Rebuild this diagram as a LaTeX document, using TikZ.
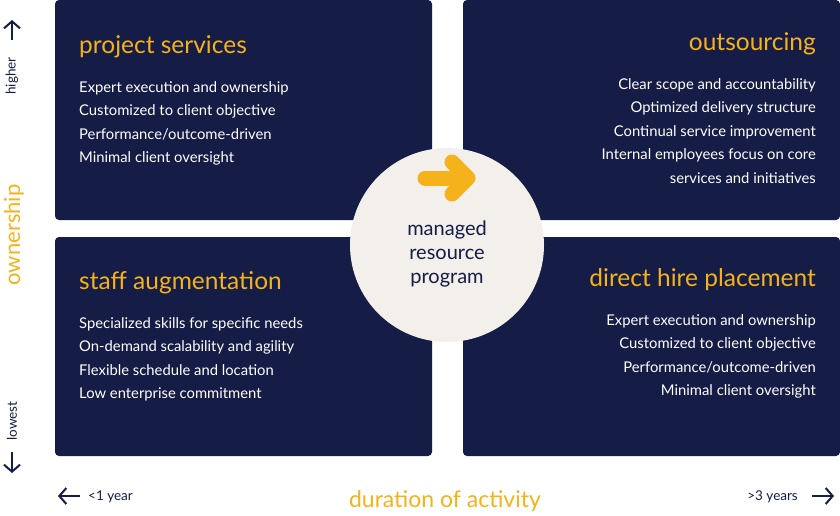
\documentclass[tikz,border=0pt]{standalone}
\usepackage{fontspec}
\setmainfont{Lato}
\definecolor{navy}{HTML}{151C45}
\definecolor{gold}{HTML}{F5B21B}
\definecolor{cream}{HTML}{F3F0EB}
\tikzset{
  quad/.style={fill=navy,rounded corners=4pt},
  title/.style={text=gold,font=\fontsize{24.5}{26}\selectfont,inner sep=0pt},
  body/.style={text=white,font=\fontsize{14.8}{23.6}\selectfont,inner sep=0pt},
  axis/.style={text=navy,font=\fontsize{13.5}{15}\selectfont,inner sep=0pt},
  axisarrow/.style={-{Straight Barb[length=7pt,width=16pt,line width=2pt]},line width=2pt,navy}
}
\usetikzlibrary{arrows.meta}
\begin{document}
\begin{tikzpicture}[x=1pt,y=-1pt]
\useasboundingbox[fill=white] (0,0) rectangle (840,515);
% quadrants
\fill[quad] (55,0) rectangle (432,220);
\fill[quad] (463,0) rectangle (840,220);
\fill[quad] (55,237) rectangle (432,456);
\fill[quad] (463,237) rectangle (840,456);

\node[title,anchor=base west] (ps) at (79,53) {project services};
\node[body,anchor=north west,align=left] (psb) at (79,81) {Expert execution and ownership\\Customized to client objective\\Performance/outcome-driven\\Minimal client oversight};

\node[title,anchor=base east] (os) at (816,50) {outsourcing};
\node[body,anchor=north east,align=right] (osb) at (816,78) {Clear scope and accountability\\Optimized delivery structure\\Continual service improvement\\Internal employees focus on core\\services and initiatives};

\node[title,anchor=base west] (sa) at (79,289) {staff augmentation};
\node[body,anchor=north west,align=left] (sab) at (79,317) {Specialized skills for specific needs\\On-demand scalability and agility\\Flexible schedule and location\\Low enterprise commitment};

\node[title,anchor=base east] (dh) at (816,286) {direct hire placement};
\node[body,anchor=north east,align=right] (dhb) at (816,314) {Expert execution and ownership\\Customized to client objective\\Performance/outcome-driven\\Minimal client oversight};

% centre
\node[circle,fill=cream,minimum size=194pt] (mrp) at (447,245) {};
\node[text=navy,font=\fontsize{20}{24}\selectfont,align=center] (mrpt) at (447,254) {managed\\resource\\program};
\draw[gold,line width=15pt,line cap=round] (425,178) -- (462,178);
\draw[gold,line width=15pt,line cap=round,line join=round] (452,162) -- (468,178) -- (452,194);

% vertical axis
\coordinate (upa) at (12,40);
\coordinate (upb) at (12,20);
\draw[axisarrow] (upa) -- (upb);
\node[axis,rotate=90] (hi) at (12,76) {higher};
\node[text=gold,font=\fontsize{22}{24}\selectfont,rotate=90,inner sep=0pt] (own) at (14,235) {ownership};
\node[axis,rotate=90] (lo) at (12,421) {lowest};
\coordinate (dna) at (12,452);
\coordinate (dnb) at (12,473);
\draw[axisarrow] (dna) -- (dnb);

% horizontal axis
\coordinate (lta) at (80,496);
\coordinate (ltb) at (58,496);
\draw[axisarrow] (lta) -- (ltb);
\node[axis,anchor=west] (ly) at (88,497) {<1 year};
\node[text=gold,font=\fontsize{23}{24}\selectfont,inner sep=0pt] (dur) at (445,501) {duration of activity};
\node[axis,anchor=east] (my) at (798,497) {>3 years};
\coordinate (rta) at (812,496);
\coordinate (rtb) at (834,496);
\draw[axisarrow] (rta) -- (rtb);
\end{tikzpicture}
\end{document}
